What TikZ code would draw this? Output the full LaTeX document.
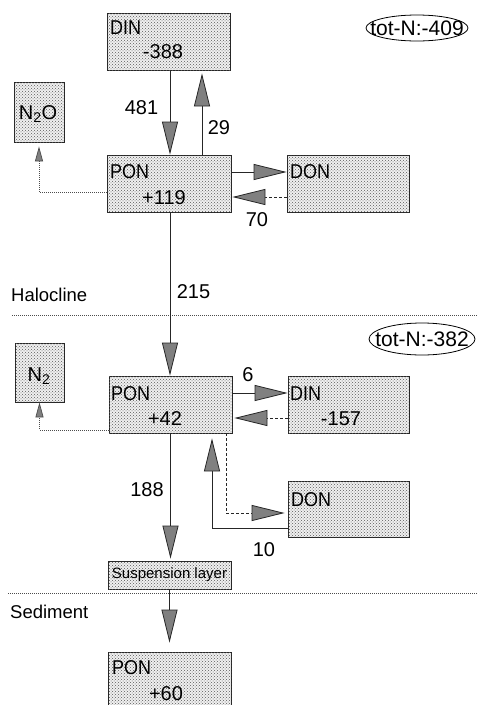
\documentclass[tikz,border=0pt]{standalone}
\usepackage{fontspec}
\setmainfont{Liberation Sans}
\newfontfamily\narrowf[FakeStretch=0.9]{Liberation Sans}
\usetikzlibrary{arrows.meta,patterns,calc}
\begin{document}
\begin{tikzpicture}[x=1pt,y=-1pt,
  box/.style={draw=black!85,line width=0.8pt,fill=gray!12,
    postaction={pattern=crosshatch dots,pattern color=black!65},
    rectangle,inner sep=0pt},
  lbl/.style={font=\fontsize{20}{20}\selectfont,inner sep=0pt},
  sidelbl/.style={font=\fontsize{18.5}{18.5}\selectfont,inner sep=0pt,anchor=west},
  nm/.style={font=\narrowf\fontsize{20}{20}\selectfont,inner sep=0pt,anchor=west},
  big/.style={-{Triangle[length=33pt,width=16pt,fill=black!50]}},
  small/.style={-{Triangle[length=15pt,width=8pt,fill=black!50]}},
  flow/.style={line width=0.8pt,draw=black!85},
  dashflow/.style={flow,dash pattern=on 3pt off 2pt},
  dotflow/.style={line width=0.7pt,draw=black!70,dash pattern=on 1pt off 1pt},
  sep/.style={line width=0.6pt,draw=black!70,dash pattern=on 1pt off 1pt},
]
\useasboundingbox (0,0) rectangle (477,705);

% ---------- upper layer ----------
\node[box,minimum width=123pt,minimum height=57pt] (dinT) at (168.5,41.5) {};
\node[nm] (dinTn) at (110,27.5) {DIN};
\node[lbl] (dinTv) at (163,52) {-388};

\node[box,minimum width=124pt,minimum height=57pt] (ponT) at (169,183.5) {};
\node[nm] (ponTn) at (110,172) {PON};
\node[lbl] (ponTv) at (164,198) {+119};

\node[box,minimum width=122pt,minimum height=57pt] (donT) at (348,183.5) {};
\node[nm] (donTn) at (290,172) {DON};

\node[box,minimum width=50pt,minimum height=60pt] (n2o) at (39,112) {};
\node[lbl] (n2ot) at (38,114) {N\textsubscript{2}O};

\node[lbl,font=\fontsize{21}{21}\selectfont] (totT) at (417,28) {tot-N:-409};
\draw[line width=0.8pt] (totT.center) ellipse [x radius=51, y radius=13];

% ---------- middle layer ----------
\node[box,minimum width=123pt,minimum height=57pt] (ponM) at (170.5,404.5) {};
\node[nm] (ponMn) at (111,394) {PON};
\node[lbl] (ponMv) at (165,419) {+42};

\node[box,minimum width=121pt,minimum height=57pt] (dinM) at (348.5,404.5) {};
\node[nm] (dinMn) at (290,394) {DIN};
\node[lbl] (dinMv) at (341,419) {-157};

\node[box,minimum width=121pt,minimum height=56pt] (donM) at (348.5,509) {};
\node[nm] (donMn) at (291,500) {DON};

\node[box,minimum width=49pt,minimum height=59pt] (n2) at (39.5,372.5) {};
\node[lbl] (n2t) at (39,376) {N\textsubscript{2}};

\node[lbl,font=\fontsize{21}{21}\selectfont] (totM) at (422,339) {tot-N:-382};
\draw[line width=0.8pt] (totM.center) ellipse [x radius=53, y radius=16];

% ---------- suspension and sediment ----------
\node[box,minimum width=123pt,minimum height=28pt,
      font=\fontsize{15}{15}\selectfont] (susp) at (169.5,575) {Suspension layer};

\node[box,minimum width=123pt,minimum height=62pt] (ponB) at (170,683) {};
\node[nm] (ponBn) at (112,668) {PON};
\node[lbl] (ponBv) at (166,694) {+60};

% ---------- separators ----------
\draw[sep] (12,315) -- (477,315);
\draw[sep] (8,593) -- (477,593);
\node[sidelbl] (halo) at (11,295) {Halocline};
\node[sidelbl] (sedi) at (10,612) {Sediment};

% ---------- connectors, upper ----------
\draw[flow,big] ([xshift=1.5pt]dinT.south) -- ([xshift=1.5pt]dinT.south |- ponT.north);
\draw[flow,big,shorten >=3pt] ([xshift=33pt]ponT.north) -- ([xshift=33pt]ponT.north |- dinT.south);
\draw[flow,big] ([yshift=11.5pt]ponT.east) -- ([yshift=11.5pt]donT.west);
\draw[dashflow,big,shorten >=1pt] ([yshift=-13.5pt]donT.west) -- ([yshift=-13.5pt]ponT.east);
\draw[dotflow,small,shorten >=4pt] ([yshift=-8.5pt]ponT.west) -| (n2o.south);

\node[lbl] (l481) at (141.5,108) {481};
\node[lbl] (l29) at (219,128) {29};
\node[lbl] (l70) at (257,220) {70};

% ---------- connectors, middle ----------
\draw[flow,big] ([xshift=1pt]ponT.south) -- ([xshift=1pt]ponT.south |- ponM.north);
\draw[flow,big] ([yshift=11.5pt]ponM.east) -- ([yshift=11.5pt]dinM.west);
\draw[dashflow,big,shorten >=2pt] ([yshift=-13.5pt]dinM.west) -- ([yshift=-13.5pt]ponM.east);
\draw[dotflow,small] ([yshift=-25.5pt]ponM.west) -| (n2.south);
\draw[flow,big,shorten >=5pt] ([yshift=-19pt]donM.west) -| ([xshift=41.5pt]ponM.south);
\draw[dashflow,big,shorten >=3pt] ([xshift=55.5pt]ponM.south) |- ([yshift=-4pt]donM.west);
\draw[flow,big,shorten >=2pt] (ponM.south) -- (ponM.south |- susp.north);
\draw[flow,big,shorten >=9pt] (susp.south) -- (susp.south |- ponB.north);

\node[lbl] (l215) at (193.5,292) {215};
\node[lbl] (l6) at (248,375) {6};
\node[lbl] (l188) at (147,490) {188};
\node[lbl] (l10) at (264,550) {10};
\end{tikzpicture}
\end{document}
